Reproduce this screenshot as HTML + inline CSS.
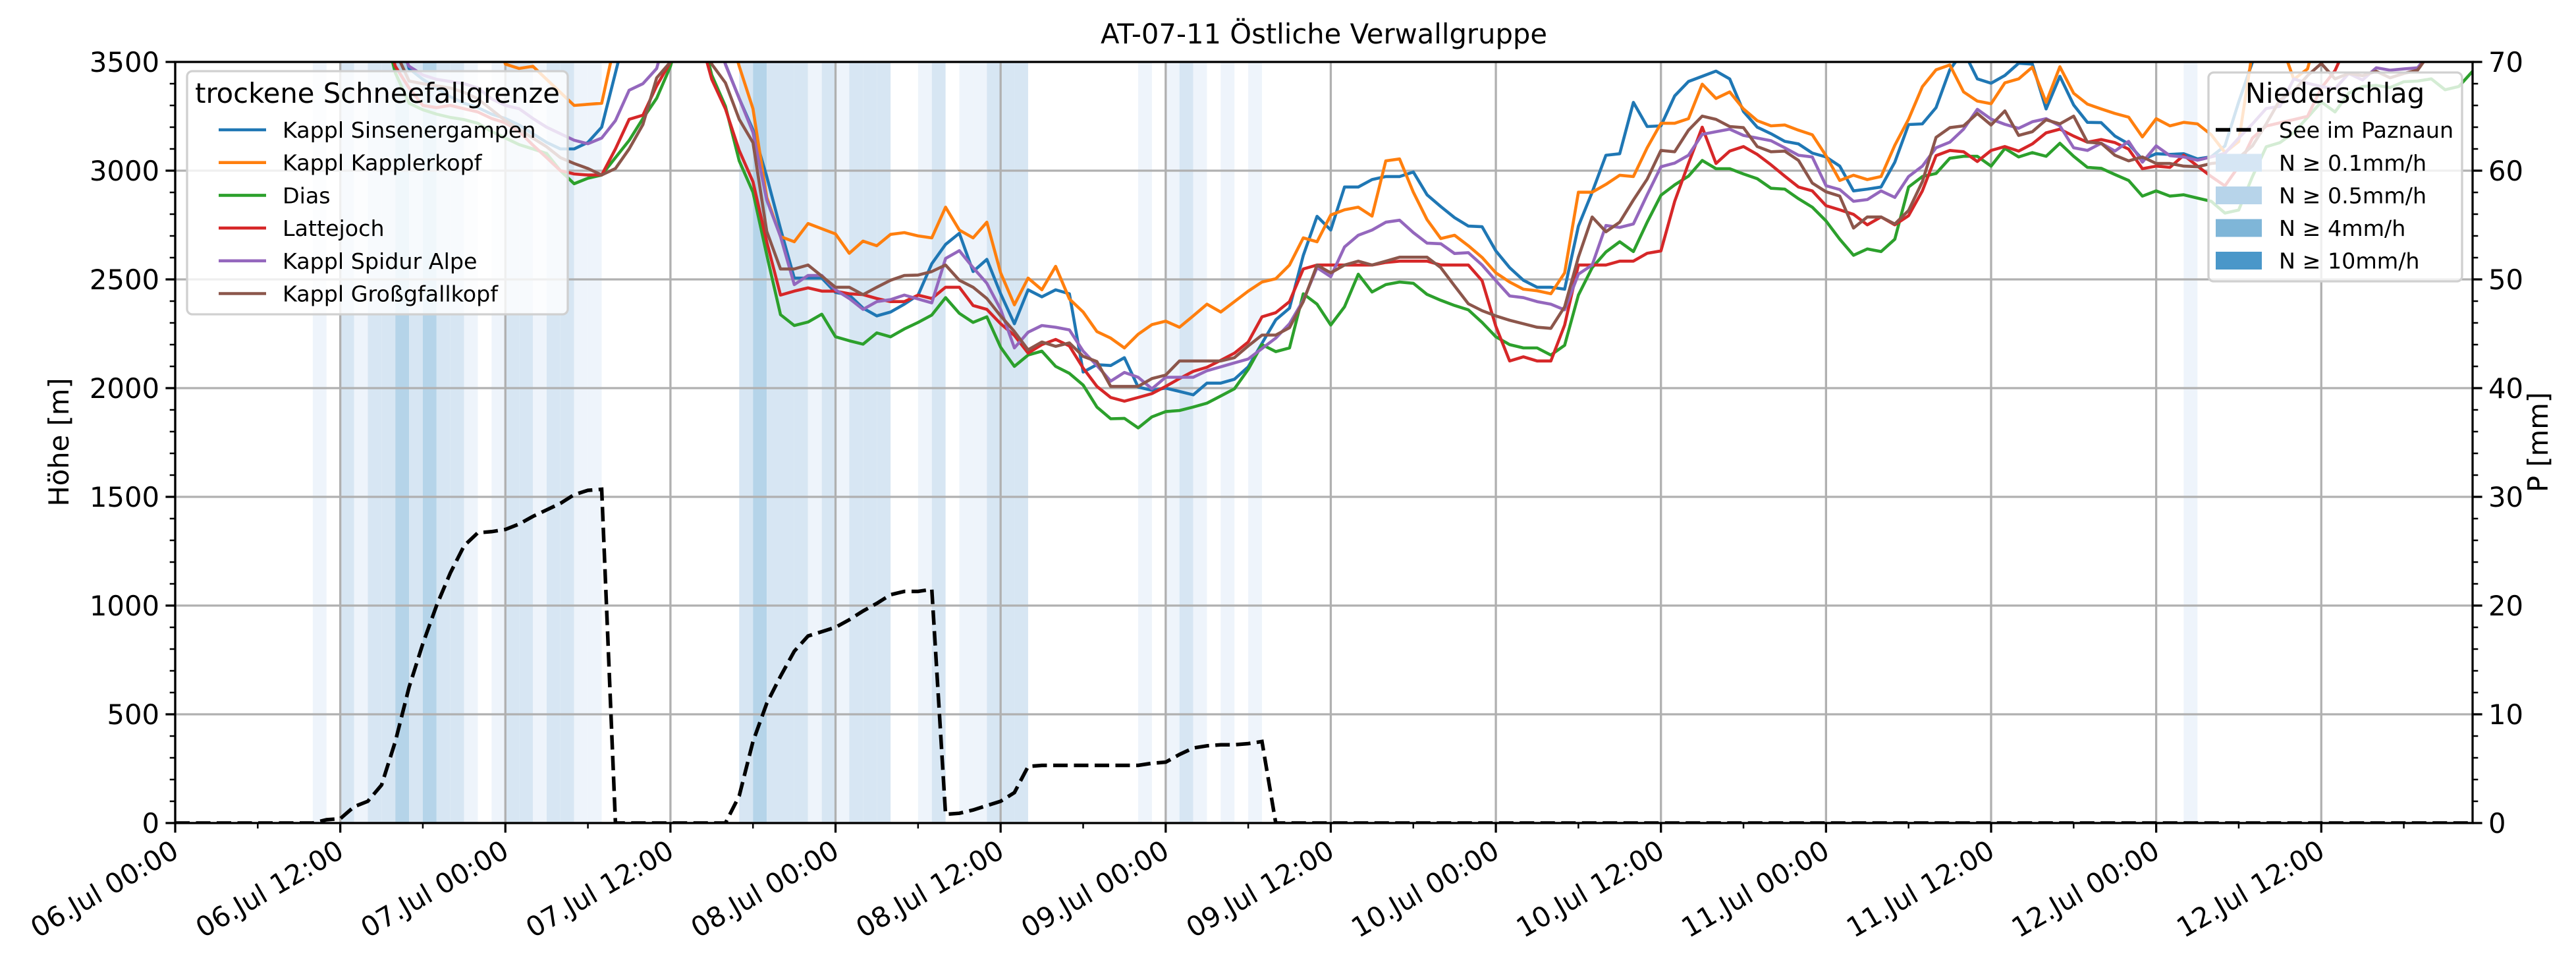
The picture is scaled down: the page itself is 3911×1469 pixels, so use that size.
<!DOCTYPE html>
<html><head><meta charset="utf-8"><title>AT-07-11 Östliche Verwallgruppe</title>
<style>
html,body{margin:0;padding:0;background:#fff;}
svg{display:block;font-family:"DejaVu Sans","Liberation Sans",sans-serif;}
</style></head>
<body>
<svg id="chart" width="3911" height="1469" viewBox="0 0 3911 1469" xmlns="http://www.w3.org/2000/svg">
<defs><clipPath id="plotclip"><rect x="266" y="94" width="3488" height="1155"/></clipPath></defs>
<rect x="0" y="0" width="3911" height="1469" fill="#fff"/>
<g id="bands" clip-path="url(#plotclip)"></g>
<g id="grid"></g>
<g id="series" clip-path="url(#plotclip)"></g>
<g id="axes"></g>
<g id="legends"></g>
<text x="2010" y="66" font-size="41.7" text-anchor="middle">AT-07-11 Östliche Verwallgruppe</text>
<text transform="translate(104,671) rotate(-90)" font-size="41.7" text-anchor="middle">Höhe [m]</text>
<text transform="translate(3868,671) rotate(-90)" font-size="41.7" text-anchor="middle">P [mm]</text>
</svg>
<script>
// ---- data (hourly, starting 06.Jul 00:00) ----
const xTickLabels = ["06.Jul 00:00","06.Jul 12:00","07.Jul 00:00","07.Jul 12:00","08.Jul 00:00","08.Jul 12:00","09.Jul 00:00","09.Jul 12:00","10.Jul 00:00","10.Jul 12:00","11.Jul 00:00","11.Jul 12:00","12.Jul 00:00","12.Jul 12:00"];
const yTicks = [0,500,1000,1500,2000,2500,3000,3500];
const y2Ticks = [0,10,20,30,40,50,60,70];
const seriesNames = ["Kappl Sinsenergampen","Kappl Kapplerkopf","Dias","Lattejoch","Kappl Spidur Alpe","Kappl Großgfallkopf"];
const sinsener = [3700,3700,3700,3700,3700,3700,3700,3700,3700,3700,3700,3700,3700,3700,3700,3700,3700,
3470,3420,3380,3340,3310,3290,3260,3240,3210,3170,3130,3100,3100,3130,3200,3450,
3700,3700,3700,3700,3700,3700,3700,
3490,3332,3188,2973,2733,2506,2506,2506,2440,2428,2368,2332,2350,2386,2428,2572,2661,2712,2536,2592,
2434,2296,2452,2420,2452,2434,2074,2108,2104,2140,2005,1990,2000,1985,1969,2023,2023,2041,2098,2206,
2314,2368,2610,2790,2727,2925,2925,2959,2973,2973,2994,2889,2835,2784,2745,2742,2631,2554,2496,2464,
2464,2455,2745,2901,3071,3078,3314,3203,3206,3344,3410,3434,3458,3422,3272,3200,3170,3135,3123,3081,
3063,3021,2907,2915,2925,3039,3212,3215,3290,3464,3550,3422,3402,3438,3494,3490,3284,3434,3302,3222,
3221,3159,3123,3051,3078,3075,3078,3054,3064,3114,3316,3500,3700,3700,3700,3700,3700,3700,3700,3700,
3700,3700,3700,3700,3700,3700,3700,3700];
const kapplerkopf = [3700,3700,3700,3700,3700,3700,3700,3700,3700,3700,3700,3700,3700,3700,3700,3700,3700,3700,3700,3700,3700,3700,3700,3700,
3490,3470,3480,3420,3360,3300,3305,3310,3600,
3700,3700,3700,3700,3700,3700,3700,3700,
3480,3285,2877,2697,2673,2757,2733,2709,2620,2676,2655,2707,2715,2700,2691,2832,2727,2691,2763,
2530,2383,2506,2452,2560,2410,2350,2260,2230,2185,2248,2292,2308,2280,2332,2386,2350,2398,2446,2488,
2503,2566,2691,2673,2796,2820,2832,2791,3045,3054,2901,2775,2688,2703,2655,2601,2530,2488,2455,2448,
2434,2530,2901,2901,2937,2979,2973,3105,3218,3218,3239,3398,3332,3362,3284,3230,3206,3210,3186,3165,
3069,2955,2979,2959,2973,3117,3237,3386,3464,3486,3362,3320,3308,3404,3422,3476,3314,3478,3356,3306,
3284,3263,3246,3155,3239,3206,3222,3215,3165,3084,3134,3550,3700,3600,3420,3468,3700,3700,3700,3700,
3700,3700,3700,3700,3700,3700,3700,3700];
const dias = [3700,3700,3700,3700,3700,3700,3700,3700,3700,3700,3700,3700,3700,3700,3700,3700,
3450,3310,3280,3260,3245,3235,3218,3180,3150,3120,3100,3079,3000,2940,2965,2980,3060,3139,3240,3333,3480,3700,3700,3440,
3296,3045,2901,2613,2338,2288,2304,2340,2236,2218,2202,2254,2236,2272,2302,2336,2416,2344,2302,2328,
2188,2100,2152,2170,2100,2068,2014,1913,1859,1861,1817,1868,1892,1897,1913,1931,1964,1997,2086,2200,
2168,2185,2434,2386,2290,2374,2524,2442,2476,2488,2482,2431,2404,2380,2360,2302,2236,2200,2185,2185,
2152,2197,2428,2554,2626,2673,2628,2763,2887,2935,2975,3047,3009,3009,2985,2963,2919,2915,2871,2832,
2769,2685,2611,2640,2628,2685,2925,2973,2987,3057,3066,3066,3021,3102,3063,3083,3066,3126,3066,3015,
3011,2982,2955,2883,2907,2883,2889,2874,2859,2805,2819,2973,3110,3129,3175,3245,3316,3270,3356,3387,
3392,3382,3409,3412,3422,3372,3387,3457];
const lattejoch = [3700,3700,3700,3700,3700,3700,3700,3700,3700,3700,3700,3700,3700,3700,3700,3700,
3480,3380,3300,3290,3300,3285,3270,3240,3220,3180,3118,3060,3000,2985,2980,2980,3100,3236,3255,3390,3500,3700,3650,3420,
3284,3093,2949,2673,2428,2446,2461,2446,2446,2434,2430,2412,2398,2398,2428,2412,2464,2464,2380,2362,
2296,2242,2161,2200,2224,2194,2092,2008,1957,1940,1957,1975,2008,2044,2077,2096,2128,2161,2212,2328,
2347,2398,2548,2566,2566,2566,2566,2566,2578,2584,2584,2584,2566,2566,2566,2494,2284,2125,2144,2125,
2125,2290,2566,2566,2566,2584,2584,2620,2631,2859,3033,3200,3033,3090,3111,3075,3027,2975,2925,2907,
2839,2820,2799,2751,2787,2751,2793,2907,3069,3093,3087,3042,3093,3111,3090,3123,3174,3191,3159,3131,
3143,3129,3099,3009,3021,3015,3071,3021,2973,2930,3020,3150,3205,3220,3235,3250,3380,3460,3600,3600,
3600,3600,3600,3600,3600,3600,3600,3600];
const spidur = [3700,3700,3700,3700,3700,3700,3700,3700,3700,3700,3700,3700,3700,3700,3700,3700,
3600,3480,3440,3420,3410,3400,3380,3330,3300,3285,3240,3200,3170,3140,3124,3150,3230,3370,3400,3470,3700,3700,3700,3700,
3488,3332,3176,2865,2697,2476,2518,2518,2452,2412,2362,2398,2407,2428,2410,2392,2596,2632,2554,2482,
2362,2185,2257,2288,2280,2268,2170,2104,2032,2072,2050,1997,2050,2050,2050,2080,2098,2116,2134,2182,
2230,2296,2404,2554,2512,2649,2703,2727,2763,2772,2715,2667,2664,2619,2623,2566,2494,2424,2416,2398,
2386,2360,2524,2566,2748,2739,2755,2889,3018,3035,3071,3167,3179,3191,3162,3150,3138,3105,3071,3063,
2931,2913,2859,2867,2907,2877,2973,3021,3105,3131,3191,3282,3237,3213,3195,3225,3239,3206,3105,3093,
3126,3090,3135,3039,3114,3069,3063,3048,3063,3080,3150,3215,3286,3296,3422,3402,3387,3377,3447,3417,
3473,3462,3468,3473,3550,3550,3550,3550];
const grossgfall = [3700,3700,3700,3700,3700,3700,3700,3700,3700,3700,3700,3700,3700,3700,3700,3700,
3550,3412,3400,3390,3380,3360,3330,3280,3230,3190,3150,3110,3060,3033,3010,2980,3010,3100,3212,3427,3500,3700,3700,3490,
3404,3236,3129,2721,2548,2548,2566,2515,2464,2464,2430,2464,2496,2518,2520,2536,2566,2496,2464,2412,
2332,2260,2176,2212,2192,2208,2146,2122,2008,2008,2008,2044,2060,2125,2125,2125,2125,2140,2194,2244,
2244,2278,2398,2566,2530,2566,2584,2566,2584,2602,2602,2602,2554,2470,2388,2356,2332,2312,2296,2280,
2275,2374,2602,2787,2719,2763,2865,2961,3093,3087,3186,3251,3236,3203,3198,3111,3087,3090,3047,2943,
2903,2883,2736,2787,2787,2755,2817,2949,3153,3198,3206,3263,3210,3275,3162,3179,3234,3215,3251,3131,
3126,3071,3045,3063,3033,3033,3021,3018,3033,3040,3060,3114,3215,3326,3366,3437,3493,3422,3447,3437,
3457,3427,3447,3462,3550,3550,3550,3550];
const precipSum = [0,0,0,0,0,0,0,0,0,0,0,0.3,0.4,1.5,2.0,3.5,7.5,12.5,16.5,20,
23,25.5,26.7,26.8,27,27.5,28.2,28.8,29.4,30.2,30.6,30.7,0,0,0,0,0,0,0,0,
0,2.5,7.5,11,13.5,15.8,17.2,17.6,18,18.7,19.5,20.2,21,21.3,21.3,21.5,0.8,0.9,1.2,1.6,
2,2.8,5.2,5.3,5.3,5.3,5.3,5.3,5.3,5.3,5.3,5.5,5.6,6.3,6.9,7.1,7.2,7.2,7.3,7.5,
0,0,0,0,0,0,0,0,0,0,0,0,0,0,0,0,0,0,0,0,
0,0,0,0,0,0,0,0,0,0,0,0,0,0,0,0,0,0,0,0,
0,0,0,0,0,0,0,0,0,0,0,0,0,0,0,0,0,0,0,0,
0,0,0,0,0,0,0,0,0,0,0,0,0,0,0,0,0,0,0,0,
0,0,0,0,0,0,0,0];
// precipitation intensity class per hour: 0 none, 1 >=0.1, 2 >=0.5, 3 >=4
const bandHours = [10,12,13,14,15,16,17,18,19,20,21,23,24,25,26,27,28,29,30,41,42,43,44,45,46,47,48,49,50,51,54,55,57,58,59,60,61,70,72,73,74,76,78,146];
const bandLevels = [1,2,1,2,2,3,2,3,2,2,1,1,2,2,1,2,2,1,1,2,3,2,2,2,1,2,1,2,2,2,1,2,1,1,2,2,2,1,1,2,1,1,1,1];

// ---- scales ----
const X0=266, X1=3754, Y0=1249, Y1=94, HMAX=167;
function xs(h){return X0+(X1-X0)*h/HMAX;}
function ys(v){return Y0-(Y0-Y1)*v/3500;}
function ys2(p){return Y0-(Y0-Y1)*p/70;}
const NS="http://www.w3.org/2000/svg";
function mk(tag,attrs,parent){const e=document.createElementNS(NS,tag);for(const k in attrs)e.setAttribute(k,attrs[k]);parent.appendChild(e);return e;}

const bandColors=["#ffffff","#eef4fb","#d7e6f3","#b5d4e9","#4a97c9"];
const gB=document.getElementById('bands');
bandHours.forEach((h,i)=>{
  const r=mk('rect',{x:xs(h),y:Y1,width:xs(h+1)-xs(h),height:Y0-Y1,fill:bandColors[bandLevels[i]]},gB);
  
  
});

// grid
const gG=document.getElementById('grid');
xTickLabels.forEach((t,i)=>{
  const l=mk('line',{x1:xs(i*12),x2:xs(i*12),y1:Y1,y2:Y0,stroke:"#b0b0b0","stroke-width":3.3},gG);
  
  
});
yTicks.forEach(v=>{
  const l=mk('line',{x1:X0,x2:X1,y1:ys(v),y2:ys(v),stroke:"#b0b0b0","stroke-width":3.3},gG);
  
  
});

// series
const colors=["#1f77b4","#ff7f0e","#2ca02c","#d62728","#9467bd","#8c564b"];
const allSeries=[sinsener,kapplerkopf,dias,lattejoch,spidur,grossgfall];
const gS=document.getElementById('series');
allSeries.forEach((arr,si)=>{
  const pts=arr.map((v,h)=>xs(h).toFixed(1)+","+ys(v).toFixed(1)).join(" ");
  const p=mk('polyline',{points:pts,fill:"none",stroke:colors[si],"stroke-width":4.6,"stroke-linejoin":"round"},gS);
  
  
});
const pp=precipSum.map((v,h)=>xs(h).toFixed(1)+","+ys2(v).toFixed(1)).join(" ");
const pl=mk('polyline',{points:pp,fill:"none",stroke:"#000","stroke-width":5.5,"stroke-dasharray":"22,9.5"},gS);



// axes
const gA=document.getElementById('axes');
mk('rect',{x:X0,y:Y1,width:X1-X0,height:Y0-Y1,fill:"none",stroke:"#000","stroke-width":3.3},gA);
yTicks.forEach(v=>{
  mk('line',{x1:X0-14.6,x2:X0,y1:ys(v),y2:ys(v),stroke:"#000","stroke-width":3.3},gA);
  const t=mk('text',{x:X0-24,y:ys(v)+15,"font-size":41.7,"text-anchor":"end"},gA);
  t.textContent=v;
  
  
});
for(let v=100;v<3500;v+=100){ if(v%500) mk('line',{x1:X0-8.3,x2:X0,y1:ys(v),y2:ys(v),stroke:"#000","stroke-width":2.5},gA); }
y2Ticks.forEach(v=>{
  mk('line',{x1:X1,x2:X1+14.6,y1:ys2(v),y2:ys2(v),stroke:"#000","stroke-width":3.3},gA);
  const t=mk('text',{x:X1+24,y:ys2(v)+15,"font-size":41.7,"text-anchor":"start"},gA);
  t.textContent=v;
  
  
});
for(let v=2;v<70;v+=2){ if(v%10) mk('line',{x1:X1,x2:X1+8.3,y1:ys2(v),y2:ys2(v),stroke:"#000","stroke-width":2.5},gA); }
xTickLabels.forEach((lab,i)=>{
  const x=xs(i*12);
  mk('line',{x1:x,x2:x,y1:Y0,y2:Y0+14.6,stroke:"#000","stroke-width":3.3},gA);
  const t=mk('text',{transform:`translate(${x+8},${Y0+50}) rotate(-30)`,"font-size":41.7,"text-anchor":"end"},gA);
  t.textContent=lab;
  
  
});
for(let h=6;h<=HMAX;h+=12){ mk('line',{x1:xs(h),x2:xs(h),y1:Y0,y2:Y0+8.3,stroke:"#000","stroke-width":2.5},gA); }

// legends
const gL=document.getElementById('legends');
const lg1=mk('g',{},gL);


mk('rect',{x:284,y:108,width:578,height:369,rx:8,fill:"#fff","fill-opacity":0.8,stroke:"#d0d0d0","stroke-width":3.3},lg1);
const t1=mk('text',{x:573,y:156,"font-size":41.7,"text-anchor":"middle"},lg1);
t1.textContent="trockene Schneefallgrenze";
seriesNames.forEach((n,i)=>{
  const y=197+i*49.7;
  const e=mk('g',{},lg1);
  
  
  mk('line',{x1:332,x2:404,y1:y,y2:y,stroke:colors[i],"stroke-width":4.6},e);
  const t=mk('text',{x:429,y:y+12,"font-size":33.3},e);
  t.textContent=n;
});
const lg2=mk('g',{},gL);


mk('rect',{x:3353,y:110,width:385,height:317,rx:8,fill:"#fff","fill-opacity":0.8,stroke:"#d0d0d0","stroke-width":3.3},lg2);
const t2=mk('text',{x:3545,y:156,"font-size":41.7,"text-anchor":"middle"},lg2);
t2.textContent="Niederschlag";
const e0=mk('g',{},lg2);


mk('line',{x1:3364,x2:3434,y1:197,y2:197,stroke:"#000","stroke-width":5.5,"stroke-dasharray":"22,9.5"},e0);
const te=mk('text',{x:3460,y:209,"font-size":33.3},e0); te.textContent="See im Paznaun";
const legLabels=["N ≥ 0.1mm/h","N ≥ 0.5mm/h","N ≥ 4mm/h","N ≥ 10mm/h"];
const legCols=["#d6e6f4","#b7d4ea","#7fb6d8","#4a97c9"];
legLabels.forEach((lab,i)=>{
  const y=247+i*49.5;
  const e=mk('g',{},lg2);
  
  
  mk('rect',{x:3364,y:y-13.5,width:70,height:27,fill:legCols[i]},e);
  const t=mk('text',{x:3460,y:y+12,"font-size":33.3},e); t.textContent=lab;
});
</script>
</body></html>
